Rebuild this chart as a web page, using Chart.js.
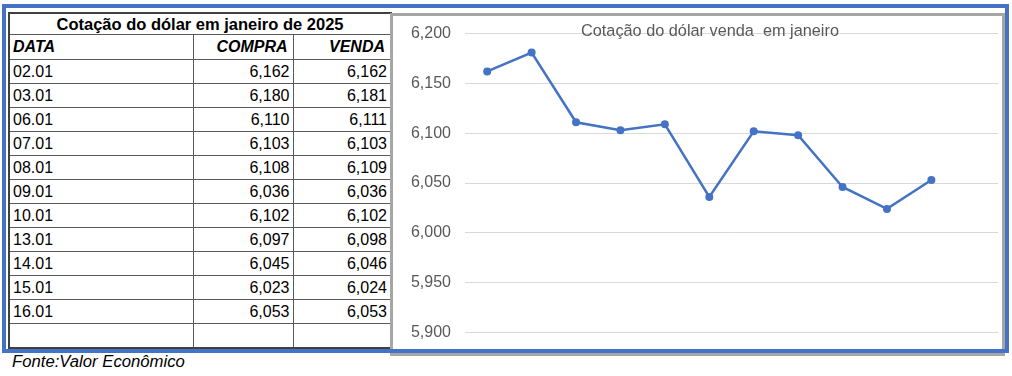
<!DOCTYPE html>
<html>
<head>
<meta charset="utf-8">
<script src="https://cdn.jsdelivr.net/npm/chart.js@4"></script>
<style>
  body { margin: 0; background: #fff; font-family: Arial, "Liberation Sans", sans-serif; }
  #frame { position: absolute; left: 2px; top: 4px; width: 1007px; height: 349px; border: 4px solid #4472C4; box-sizing: border-box; z-index: 3; pointer-events: none; }
  #tbl { position: absolute; left: 8px; top: 12px; border-collapse: collapse; border: 2px solid #404040; table-layout: fixed; }
  #tbl td { border: 1px solid #595959; padding: 0 3px; font-size: 16px; height: 23px; line-height: 23px; color: #000; white-space: nowrap; overflow: hidden; }
  #tbl td.num { text-align: right; }
  #tbl tr.title td { font-weight: bold; font-size: 16.5px; text-align: center; height: 20px; line-height: 20px; }
  #tbl tr.head td { font-weight: bold; font-style: italic; height: 24px; line-height: 24px; }
  #tbl tr.head td.num { padding-right: 5px; }
  #fonte { position: absolute; left: 12px; top: 352px; font-size: 16.7px; font-style: italic; color: #000; }
  #panel { position: absolute; left: 390px; top: 13px; width: 615px; height: 343px; border: 3px solid #a6a6a6; box-sizing: border-box; background: #fff; z-index: 2; }
  #c { position: absolute; left: 0; top: -6px; }
  #chartTitle { position: absolute; left: 188px; top: 5px; font-size: 16.3px; color: #595959; white-space: pre; z-index: 4; }
</style>
</head>
<body>
<table id="tbl">
  <colgroup><col style="width:184px"><col style="width:100px"><col style="width:98px"></colgroup>
  <tbody id="tbody"></tbody>
</table>
<div id="fonte">Fonte:Valor Econômico</div>
<div id="panel">
  <canvas id="c" width="609" height="346"></canvas>
  <div id="chartTitle">Cotação do dólar venda  em janeiro</div>
</div>
<div id="frame"></div>
<script>
// dados do mês
const datas = ["02.01", "03.01", "06.01", "07.01", "08.01", "09.01", "10.01", "13.01", "14.01", "15.01", "16.01"];
const compra = [6.162, 6.180, 6.110, 6.103, 6.108, 6.036, 6.102, 6.097, 6.045, 6.023, 6.053];
const venda = [6.162, 6.181, 6.111, 6.103, 6.109, 6.036, 6.102, 6.098, 6.046, 6.024, 6.053];
const yTicks = [5.900, 5.950, 6.000, 6.050, 6.100, 6.150, 6.200];

const fmt = v => v.toFixed(3).replace('.', ',');

// tabela
const tbody = document.getElementById('tbody');
let html = '<tr class="title"><td colspan="3">Cotação do dólar em janeiro de 2025</td></tr>';
html += '<tr class="head"><td>DATA</td><td class="num">COMPRA</td><td class="num">VENDA</td></tr>';
datas.forEach((d, i) => {
  html += `<tr><td>${d}</td><td class="num">${fmt(compra[i])}</td><td class="num">${fmt(venda[i])}</td></tr>`;
});
html += '<tr><td></td><td></td><td></td></tr>';
tbody.innerHTML = html;

// gráfico: 12 categorias, a última vazia como a linha em branco da tabela
const labels = datas.concat([""]);
const values = venda.concat([null]);

new Chart(document.getElementById('c').getContext('2d'), {
  type: 'line',
  data: {
    labels: labels,
    datasets: [{
      data: values,
      borderColor: '#4472C4',
      backgroundColor: '#4472C4',
      borderWidth: 2.5,
      pointRadius: 4,
      pointBorderWidth: 0,
      tension: 0
    }]
  },
  options: {
    responsive: false,
    animation: false,
    layout: { padding: { top: 10, right: 2, bottom: 19, left: 0 } },
    plugins: { legend: { display: false }, title: { display: false }, tooltip: { enabled: false } },
    scales: {
      x: { display: false, offset: true },
      y: {
        min: yTicks[0],
        max: yTicks[yTicks.length - 1],
        afterFit: s => { s.width = 72; },
        afterBuildTicks: s => { s.ticks = yTicks.map(v => ({ value: v })); },
        ticks: { callback: v => fmt(v), color: '#595959', font: { size: 16, family: 'Arial, "Liberation Sans"' }, padding: 14 },
        grid: { color: '#d9d9d9', drawTicks: false },
        border: { display: false }
      }
    }
  }
});
</script>
</body>
</html>
